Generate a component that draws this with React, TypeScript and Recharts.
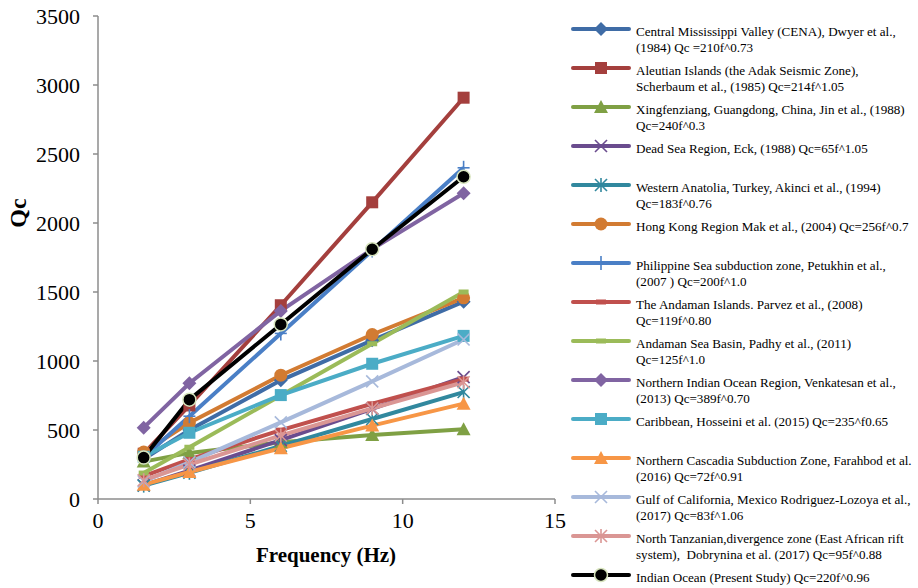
import React from "react";
import { LineChart, Line, XAxis, YAxis } from "recharts";

// frequency (Hz) at which each Qc relation is evaluated
const frequency = [1.5, 3, 6, 9, 12];

// Qc values per study
const cena = [290, 500, 860, 1150, 1430];
const aleutian = [328, 678, 1404, 2150, 2908];
const xingfenziang = [271, 334, 411, 464, 506];
const deadSea = [100, 206, 427, 653, 883];
const westernAnatolia = [97, 190, 385, 580, 775];
const hongKong = [340, 552, 897, 1192, 1458];
const philippine = [300, 600, 1200, 1800, 2400];
const andamanIslands = [165, 287, 499, 690, 869];
const andamanSea = [188, 375, 750, 1125, 1500];
const northernIndian = [517, 839, 1363, 1811, 2215];
const caribbean = [306, 480, 753, 980, 1182];
const cascadia = [104, 196, 368, 532, 691];
const gulfCalifornia = [128, 266, 555, 852, 1156];
const tanzania = [136, 250, 460, 657, 846];
const indianOcean = [300, 720, 1265, 1810, 2335];

const xTicks = [0, 5, 10, 15];
const yTicks = [0, 500, 1000, 1500, 2000, 2500, 3000, 3500];

type Marker = "diamond" | "square" | "triangle" | "x" | "star" | "circle" | "plus" | "dash" | "dot";

const series: { key: string; color: string; marker: Marker; values: number[]; label: string[] }[] = [
  { key: "cena", color: "#3F6CA6", marker: "diamond", values: cena,
    label: ["Central Mississippi Valley (CENA), Dwyer et al.,", "(1984) Qc =210f^0.73"] },
  { key: "aleutian", color: "#A43F3D", marker: "square", values: aleutian,
    label: ["Aleutian Islands (the Adak Seismic Zone),", "Scherbaum et al., (1985) Qc=214f^1.05"] },
  { key: "xing", color: "#7FA044", marker: "triangle", values: xingfenziang,
    label: ["Xingfenziang, Guangdong, China, Jin et al., (1988)", "Qc=240f^0.3"] },
  { key: "deadsea", color: "#6A4C8E", marker: "x", values: deadSea,
    label: ["Dead Sea Region, Eck, (1988) Qc=65f^1.05"] },
  { key: "anatolia", color: "#31889E", marker: "star", values: westernAnatolia,
    label: ["Western Anatolia, Turkey, Akinci et al., (1994)", "Qc=183f^0.76"] },
  { key: "hongkong", color: "#D27B32", marker: "circle", values: hongKong,
    label: ["Hong Kong Region Mak et al., (2004) Qc=256f^0.7"] },
  { key: "philippine", color: "#4A7FC6", marker: "plus", values: philippine,
    label: ["Philippine Sea subduction zone, Petukhin et al.,", "(2007 ) Qc=200f^1.0"] },
  { key: "andamanI", color: "#C0504D", marker: "dash", values: andamanIslands,
    label: ["The Andaman Islands. Parvez et al., (2008)", "Qc=119f^0.80"] },
  { key: "andamanS", color: "#9BBB59", marker: "dash", values: andamanSea,
    label: ["Andaman Sea Basin, Padhy et al., (2011)", "Qc=125f^1.0"] },
  { key: "nio", color: "#8064A2", marker: "diamond", values: northernIndian,
    label: ["Northern Indian Ocean Region, Venkatesan et al.,", "(2013) Qc=389f^0.70"] },
  { key: "caribbean", color: "#4BACC6", marker: "square", values: caribbean,
    label: ["Caribbean, Hosseini et al. (2015) Qc=235^f0.65"] },
  { key: "cascadia", color: "#F79646", marker: "triangle", values: cascadia,
    label: ["Northern Cascadia Subduction Zone, Farahbod et al.", "(2016) Qc=72f^0.91"] },
  { key: "gulf", color: "#A7B9DB", marker: "x", values: gulfCalifornia,
    label: ["Gulf of California, Mexico Rodriguez-Lozoya et al.,", "(2017) Qc=83f^1.06"] },
  { key: "tanzania", color: "#DA9694", marker: "star", values: tanzania,
    label: ["North Tanzanian,divergence zone (East African rift", "system),  Dobrynina et al. (2017) Qc=95f^0.88"] },
  { key: "indian", color: "#000000", marker: "dot", values: indianOcean,
    label: ["Indian Ocean (Present Study) Qc=220f^0.96"] },
];

const data = frequency.map((f, i) => {
  const row: Record<string, number> = { f };
  series.forEach((s) => (row[s.key] = s.values[i]));
  return row;
});

function MarkerShape({ cx, cy, marker, color }: { cx: number; cy: number; marker: Marker; color: string }) {
  switch (marker) {
    case "diamond":
      return <polygon points={`${cx},${cy - 7} ${cx + 7},${cy} ${cx},${cy + 7} ${cx - 7},${cy}`} fill={color} />;
    case "square":
      return <rect x={cx - 6} y={cy - 6} width={12} height={12} fill={color} />;
    case "triangle":
      return <polygon points={`${cx},${cy - 7} ${cx + 7},${cy + 6} ${cx - 7},${cy + 6}`} fill={color} />;
    case "x":
      return (
        <g stroke={color} strokeWidth={1.6}>
          <line x1={cx - 6} y1={cy - 6} x2={cx + 6} y2={cy + 6} />
          <line x1={cx - 6} y1={cy + 6} x2={cx + 6} y2={cy - 6} />
        </g>
      );
    case "star":
      return (
        <g stroke={color} strokeWidth={1.6}>
          <line x1={cx - 6} y1={cy - 6} x2={cx + 6} y2={cy + 6} />
          <line x1={cx - 6} y1={cy + 6} x2={cx + 6} y2={cy - 6} />
          <line x1={cx} y1={cy - 7} x2={cx} y2={cy + 7} />
        </g>
      );
    case "circle":
      return <circle cx={cx} cy={cy} r={6.5} fill={color} />;
    case "plus":
      return (
        <g stroke={color} strokeWidth={1.6}>
          <line x1={cx - 6} y1={cy} x2={cx + 6} y2={cy} />
          <line x1={cx} y1={cy - 7} x2={cx} y2={cy + 7} />
        </g>
      );
    case "dash":
      return <rect x={cx - 5} y={cy - 2.5} width={10} height={5} fill={color} />;
    case "dot":
      return <circle cx={cx} cy={cy} r={6.5} fill="#000" stroke="#D7E4BD" strokeWidth={1.5} />;
  }
}

const serif = "Liberation Serif, Tinos, DejaVu Serif, Noto Serif, serif";

export default function App() {
  return (
    <div style={{ position: "absolute", left: 0, top: 0, width: 918, height: 588, background: "#fff", overflow: "hidden", fontFamily: serif }}>
      <LineChart width={918} height={588} data={data} margin={{ top: 16, right: 363, left: 0, bottom: 49 }} style={{ fontFamily: serif }}>
        <XAxis
          dataKey="f"
          type="number"
          domain={[0, 15]}
          ticks={xTicks}
          height={40}
          stroke="#8C8C8C"
          strokeWidth={1.5}
          tickSize={5}
          tickMargin={8}
          tick={{ fill: "#000", fontSize: 22, fontFamily: serif }}
        />
        <YAxis
          type="number"
          domain={[0, 3500]}
          ticks={yTicks}
          width={98}
          stroke="#8C8C8C"
          strokeWidth={1.5}
          tickSize={5}
          tickMargin={13}
          tick={{ fill: "#000", fontSize: 22, fontFamily: serif }}
        />
        {series.map((s) => (
          <Line
            key={s.key}
            dataKey={s.key}
            stroke={s.color}
            strokeWidth={4}
            isAnimationActive={false}
            dot={(p: any) => <MarkerShape key={`${s.key}-${p.index}`} cx={p.cx} cy={p.cy} marker={s.marker} color={s.color} />}
            activeDot={false}
          />
        ))}
      </LineChart>

      <div
        style={{
          position: "absolute",
          left: 18,
          top: 213,
          transform: "translate(-50%, -50%) rotate(-90deg)",
          fontSize: 24,
          fontWeight: "bold",
          whiteSpace: "nowrap",
        }}
      >
        Qc
      </div>
      <div
        style={{
          position: "absolute",
          left: 326,
          top: 555,
          transform: "translate(-50%, -50%)",
          fontSize: 21,
          fontWeight: "bold",
          whiteSpace: "nowrap",
        }}
      >
        Frequency (Hz)
      </div>

      {series.map((s, i) => {
        const y = 29 + i * 39;
        return (
          <React.Fragment key={s.key}>
            <svg style={{ position: "absolute", left: 570, top: y - 10 }} width={62} height={20}>
              <line x1={3} y1={10} x2={59} y2={10} stroke={s.color} strokeWidth={4} strokeLinecap="round" />
              <MarkerShape cx={31} cy={10} marker={s.marker} color={s.color} />
            </svg>
            <div
              style={{
                position: "absolute",
                left: 636,
                top: y - 5,
                fontSize: 13.1,
                lineHeight: "16px",
                whiteSpace: "pre",
                color: "#000",
              }}
            >
              {s.label.join("\n")}
            </div>
          </React.Fragment>
        );
      })}
    </div>
  );
}
